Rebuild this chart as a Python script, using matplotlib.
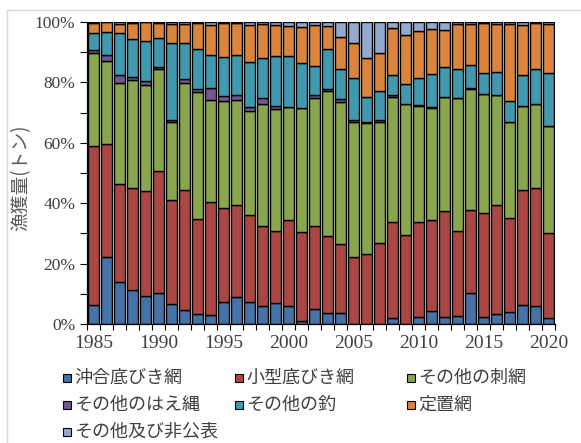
import matplotlib
matplotlib.use('Agg')
from matplotlib import pyplot as plt
from matplotlib.patches import Rectangle
from matplotlib.lines import Line2D

plt.rcParams['font.family'] = ['Noto Sans CJK JP', 'DejaVu Sans']

years = list(range(1985, 2021))

# 割合 (%)
okiai = [6.2, 22.1, 13.9, 11.1, 9.3, 10.2, 6.5, 4.6, 3.2, 2.9, 7.2, 9.1, 7.4, 5.8, 7.1, 6.0, 1.1, 4.9,
         3.8, 3.8, 0.0, 0.0, 0.0, 2.0, 0.0, 2.4, 4.4, 2.2, 2.7, 10.4, 2.4, 3.3, 4.1, 6.2, 6.0, 1.9]
kogata = [52.6, 37.4, 32.3, 33.9, 34.9, 40.5, 34.4, 39.9, 31.5, 37.5, 31.3, 30.3, 28.6, 26.6, 23.8, 28.3, 29.2, 27.7,
          25.2, 22.6, 22.1, 23.1, 26.8, 31.8, 29.6, 31.4, 29.9, 35.2, 28.2, 27.2, 34.3, 36.1, 31.0, 38.3, 38.9, 28.2]
sashiami = [31.0, 27.6, 33.7, 35.8, 35.0, 33.6, 25.9, 35.4, 42.1, 33.9, 35.5, 34.9, 34.6, 40.6, 40.3, 37.4, 41.3, 42.2,
            48.1, 47.1, 44.7, 43.5, 40.2, 41.4, 43.1, 38.3, 37.3, 37.7, 44.0, 40.1, 39.4, 36.5, 31.7, 27.6, 27.8, 35.6]
haenawa = [0.9, 2.1, 2.7, 0.9, 1.3, 0.7, 0.9, 1.1, 1.1, 3.7, 1.4, 1.6, 1.3, 1.8, 1.1, 0.2, 0.0, 1.1,
           0.8, 1.1, 0.7, 0.4, 0.4, 0.5, 0.2, 0.5, 0.3, 0.0, 0.0, 0.4, 0.0, 0.0, 0.0, 0.0, 0.0, 0.0]
tsuri = [5.5, 7.5, 13.9, 12.8, 13.1, 9.7, 25.4, 12.1, 13.0, 11.0, 13.1, 13.1, 14.9, 13.3, 16.4, 16.8, 14.7, 9.5,
         13.3, 9.7, 13.8, 8.2, 9.8, 6.8, 6.7, 8.8, 10.8, 9.9, 9.6, 7.7, 6.9, 7.7, 7.2, 10.4, 11.8, 17.3]
teichi = [3.6, 3.3, 2.8, 5.3, 6.4, 4.9, 6.2, 6.2, 8.7, 10.1, 11.1, 10.6, 12.1, 11.2, 10.2, 10.0, 12.2, 13.5,
          7.5, 10.8, 11.6, 12.9, 12.6, 15.4, 16.0, 15.7, 14.9, 12.3, 14.8, 13.5, 16.6, 15.7, 25.3, 16.6, 15.3, 16.3]
sonota = [0.2, 0.0, 0.7, 0.2, 0.0, 0.4, 0.7, 0.7, 0.4, 0.9, 0.4, 0.4, 1.1, 0.7, 1.1, 1.3, 1.5, 1.1,
          1.3, 4.9, 7.1, 11.9, 10.2, 2.1, 4.4, 2.9, 2.4, 2.7, 0.7, 0.7, 0.4, 0.7, 0.7, 0.9, 0.2, 0.7]

series = [okiai, kogata, sashiami, haenawa, tsuri, teichi, sonota]
labels = ['沖合底びき網', '小型底びき網', 'その他の刺網', 'その他のはえ縄', 'その他の釣', '定置網', 'その他及び非公表']
colors = ['#4572A7', '#AA4643', '#89A54E', '#71588F', '#4198AF', '#DB843D', '#93A9CF']

fig = plt.figure(figsize=(5.81, 4.43), dpi=100)
ax = fig.add_axes([87 / 581, 1 - 324 / 443, (555 - 87) / 581, (324 - 22) / 443])

x = list(range(len(years)))
bottom = [0.0] * len(years)
for vals, col in zip(series, colors):
    ax.bar(x, vals, width=0.9, bottom=bottom, color=col, edgecolor='black', linewidth=1.0)
    bottom = [b + v for b, v in zip(bottom, vals)]

ax.set_xlim(-0.5, len(years) - 0.5)
ax.set_ylim(0, 100)

# x軸: 目盛り線は棒の境目、ラベルは5年ごと
ax.set_xticks([i - 0.5 for i in range(len(years) + 1)])
ax.set_xticklabels([])
ax.set_xticks([i for i, y in enumerate(years) if y % 5 == 0], minor=True)
ax.set_xticklabels([str(y) for y in years if y % 5 == 0], minor=True,
                   fontfamily='Liberation Serif', fontsize=14, color='#404040')
ax.tick_params(axis='x', which='major', direction='out', length=4, width=0.8)
ax.tick_params(axis='x', which='minor', length=0, pad=8)

ax.set_yticks(range(0, 101, 20))
ax.set_yticklabels([f'{v}%' for v in range(0, 101, 20)],
                   fontfamily='Liberation Serif', fontsize=12.5, color='#404040')
ax.set_yticks(range(10, 100, 20), minor=True)
ax.tick_params(axis='y', which='both', direction='out', length=5, width=0.8)

for s in ['top', 'right']:
    ax.spines[s].set_visible(False)
for s in ['left', 'bottom']:
    ax.spines[s].set_linewidth(0.9)

fig.text(21 / 581, 1 - 178 / 443, '漁獲量(トン)', rotation=90, ha='center', va='center',
         fontsize=13.5, color='#595959')

# 凡例 (3列、行方向に並べる)
col_x = [63, 235, 407]
row_y = [378, 404.5, 431.5]
sq = 8
for i, (lab, col) in enumerate(zip(labels, colors)):
    px = col_x[i % 3]
    py = row_y[i // 3]
    fig.add_artist(Rectangle((px / 581, 1 - (py + sq / 2) / 443), sq / 581, sq / 443,
                             transform=fig.transFigure, facecolor=col, edgecolor='black', linewidth=0.8))
    fig.text((px + sq + 3) / 581, 1 - py / 443, lab, ha='left', va='center',
             fontsize=13, color='#404040')

# 外枠 (一部)
fig.add_artist(Line2D([7 / 581, 1], [1 - 10 / 443, 1 - 10 / 443], transform=fig.transFigure,
                      color='#d9d9d9', linewidth=1))
fig.add_artist(Line2D([7 / 581, 7 / 581], [0, 1 - 10 / 443], transform=fig.transFigure,
                      color='#d9d9d9', linewidth=1))

fig.savefig('out.png', dpi=100)
